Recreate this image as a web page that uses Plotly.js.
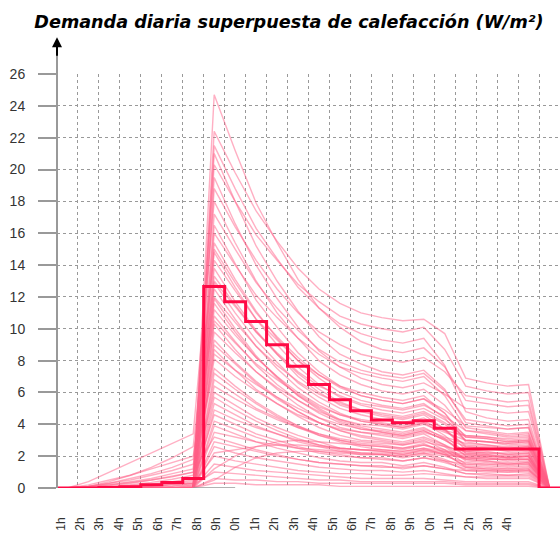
<!DOCTYPE html>
<html>
<head>
<meta charset="utf-8">
<script src="https://cdn.plot.ly/plotly-3.0.1.min.js"></script>
<style>html,body{margin:0;padding:0;background:#fff;}#chart{width:560px;height:533px;}</style>
</head>
<body>
<div id="chart"></div>
<script>
// hour index 1..24 (points drawn at the centre of each hour)
const hours = [1,2,3,4,5,6,7,8,9,10,11,12,13,14,15,16,17,18,19,20,21,22,23,24];
const hourLabels = ["1h","2h","3h","4h","5h","6h","7h","8h","9h","0h","1h","2h","3h","4h","5h","6h","7h","8h","9h","0h","1h","2h","3h","4h"];

// Mean daily heating demand (bold step line), W/m²
const mediaHoraria = [0,0,0.03,0.08,0.2,0.35,0.6,12.65,11.7,10.45,9.0,7.65,6.5,5.55,4.85,4.27,4.1,4.23,3.75,2.45,2.45,2.45,2.45,0];

// Superposed daily curves (W/m²)
const diasAltos = [
  [0,0,0,0,0,0,0,24.7,21.2,17.9,15.4,13.1,11.3,10.1,9.2,8.7,8.5,8.8,7.6,5.5,5.3,5.1,5.2,0],
  [0,0,0,0,0,0,0,22.4,19.8,17.4,15.5,13.8,12.5,11.6,11.0,10.7,10.5,10.6,9.7,6.9,6.6,6.4,6.5,0],
  [0,0,0.05,0.1,0.2,0.3,0.5,21.5,18.8,16.3,14.4,12.6,11.3,10.3,9.7,9.3,9.1,9.4,7.7,4.8,4.4,4.2,4.3,0],
  [0,0,0,0,0,0,0,21.0,18.0,15.2,13.0,11.1,9.5,8.4,7.8,7.3,7.1,7.4,6.2,4.1,3.9,3.7,3.8,0],
  [0,0.05,0.15,0.3,0.5,0.75,1.0,20.3,18.0,15.9,14.3,12.8,11.7,10.8,10.3,10.0,9.8,10.1,8.7,6.4,6.1,5.9,6.0,0],
  [0,0,0,0,0,0,0,19.5,16.6,14.0,11.9,10.1,8.6,7.6,6.9,6.5,6.3,6.6,5.9,5.0,4.9,4.7,4.8,0],
  [0,0,0,0,0,0,0,18.8,16.4,14.3,12.5,11.0,9.8,9.0,8.4,8.1,7.9,8.2,7.3,5.8,5.6,5.4,5.5,0],
  [0,0.4,1.0,1.6,2.2,2.8,3.4,18.0,15.4,13.0,11.0,9.4,8.0,7.1,6.5,6.1,5.9,6.2,5.2,3.6,3.4,3.2,3.3,0],
  [0,0,0,0,0,0,0,17.2,15.0,12.9,11.3,9.9,8.7,7.9,7.4,7.1,6.9,7.2,6.1,4.3,4.1,3.9,4.0,0],
  [0,0,0,0.05,0.1,0.2,0.3,16.5,14.1,11.8,10.1,8.5,7.3,6.4,5.8,5.5,5.3,5.6,4.7,3.2,3.1,2.9,3.0,0],
  [0,0,0,0,0,0,0,16.0,14.0,12.1,10.7,9.4,8.4,7.6,7.2,6.9,6.7,7.0,5.8,3.8,3.6,3.4,3.5,0],
  [0,0,0,0,0,0,0,15.4,13.1,11.1,9.4,8.0,6.9,6.0,5.5,5.2,5.0,5.3,4.4,3.0,2.9,2.7,2.8,0],
  [0,0,0,0,0,0,0,15.0,12.9,11.0,9.5,8.2,7.1,6.3,5.8,5.5,5.3,5.6,4.9,3.9,3.8,3.7,3.8,0],
  [0,0.1,0.4,0.8,1.3,1.9,2.6,14.8,12.6,10.6,9.0,7.6,6.5,5.7,5.2,4.9,4.7,5.0,4.3,3.3,3.2,3.0,3.1,0],
  [0,0,0,0,0,0,0,14.3,12.4,10.6,9.3,8.0,7.1,6.4,6.0,5.7,5.5,5.8,4.7,2.9,2.7,2.5,2.6,0]
];
const diasMedios = [
  [0,0,0,0,0,0,0,13.8,11.7,9.9,8.4,7.0,6.0,5.2,4.8,4.5,4.3,4.6,3.7,2.4,2.3,2.1,2.2,0],
  [0,0.1,0.3,0.6,0.9,1.3,1.8,13.3,11.5,9.8,8.5,7.3,6.4,5.8,5.3,5.1,4.9,5.2,4.5,3.6,3.5,3.3,3.4,0],
  [0,0,0,0,0,0,0.2,13.0,11.4,9.8,8.4,7.2,6.2,5.4,4.9,4.6,4.4,4.7,4.0,3.0,2.9,2.8,2.9,0],
  [0,0,0,0,0,0,0,12.9,11.0,9.3,7.9,6.6,5.7,5.0,4.6,4.3,4.1,4.4,3.7,2.6,2.5,2.3,2.4,0],
  [0,0,0,0,0,0,0,12.5,10.6,8.9,7.5,6.3,5.4,4.7,4.2,4.0,3.8,4.1,3.3,2.2,2.1,1.9,2.0,0],
  [0,0.05,0.2,0.4,0.6,0.9,1.2,12.0,10.4,8.9,7.7,6.7,5.9,5.3,4.9,4.7,4.5,4.8,4.1,3.2,3.1,2.9,3.0,0],
  [0,0,0,0,0,0,0,11.9,10.0,8.3,6.9,5.8,4.9,4.2,3.8,3.5,3.3,3.6,3.0,2.3,2.2,2.1,2.2,0],
  [0,0,0,0,0,0,0,11.6,9.8,8.2,7.0,5.8,5.0,4.3,3.9,3.7,3.5,3.8,3.1,2.0,1.9,1.7,1.8,0],
  [0,0,0,0,0,0,0,11.2,9.6,8.2,7.0,6.0,5.2,4.6,4.3,4.1,3.9,4.2,3.6,2.7,2.6,2.5,2.6,0],
  [0,0.2,0.5,0.8,1.2,1.6,2.0,10.8,9.2,7.7,6.5,5.5,4.7,4.1,3.7,3.5,3.3,3.6,3.0,2.2,2.1,2.0,2.1,0],
  [0,0,0,0,0,0,0.1,10.5,9.1,7.8,6.8,5.9,5.1,4.6,4.2,4.0,3.8,4.1,3.6,3.3,3.2,3.1,3.2,0],
  [0,0,0,0,0,0,0,10.3,8.7,7.3,6.2,5.2,4.4,3.8,3.5,3.3,3.1,3.4,2.7,1.8,1.7,1.5,1.6,0],
  [0,0,0,0,0,0,0,9.8,8.5,7.3,6.3,5.5,4.8,4.3,4.0,3.9,3.7,4.0,3.5,3.0,2.9,2.8,2.9,0],
  [0,0,0.1,0.2,0.35,0.55,0.8,9.3,7.9,6.7,5.7,4.8,4.1,3.6,3.3,3.1,2.9,3.2,2.7,2.1,2.0,1.9,2.0,0],
  [0,0,0,0,0,0,0,9.0,7.8,6.6,5.6,4.8,4.1,3.6,3.2,3.0,2.8,3.1,2.6,1.7,1.6,1.5,1.6,0],
  [0,0,0,0,0,0,0,8.7,7.4,6.2,5.3,4.5,3.8,3.3,3.0,2.9,2.7,3.0,2.4,1.5,1.4,1.3,1.4,0],
  [0,0,0,0,0,0.1,0.3,8.4,7.4,6.5,5.7,5.0,4.4,4.0,3.7,3.6,3.4,3.7,3.2,2.8,2.7,2.6,2.7,0],
  [0,0,0,0,0,0,0,8.1,7.0,6.1,5.3,4.6,4.1,3.7,3.5,3.4,3.2,3.5,3.1,2.6,2.5,2.4,2.5,0],
  [0,0.1,0.3,0.5,0.8,1.1,1.5,7.5,6.4,5.4,4.6,3.9,3.4,3.0,2.7,2.6,2.4,2.7,2.3,1.8,1.7,1.6,1.7,0]
];
const diasBajos = [
  [0,0,0,0,0,0,0,7.2,6.2,5.3,4.5,3.9,3.3,2.9,2.6,2.4,2.3,2.5,2.1,1.4,1.3,1.2,1.3,0],
  [0,0,0,0,0,0,0,6.8,5.9,5.0,4.4,3.8,3.3,3.0,2.8,2.7,2.5,2.8,2.2,1.3,1.2,1.1,1.2,0],
  [0,0,0,0,0,0,0,6.4,5.6,4.9,4.3,3.8,3.4,3.1,2.9,2.8,2.7,2.9,2.6,2.3,2.2,2.2,2.3,0],
  [0,0,0.05,0.15,0.25,0.4,0.6,6.0,5.2,4.4,3.8,3.3,2.9,2.5,2.4,2.3,2.1,2.4,2.1,1.9,1.9,1.8,1.9,0],
  [0,0,0,0,0,0,0.1,5.7,4.9,4.2,3.6,3.1,2.7,2.4,2.2,2.1,2.0,2.2,1.8,1.3,1.2,1.2,1.2,0],
  [0,0,0,0,0,0,0,5.3,4.6,3.9,3.4,2.9,2.6,2.3,2.1,2.1,1.9,2.1,1.7,1.1,1.0,1.0,1.0,0],
  [0,0,0,0,0,0,0,4.9,4.3,3.8,3.4,3.0,2.7,2.5,2.4,2.3,2.2,2.4,2.2,2.0,2.0,1.9,2.0,0],
  [0,0,0,0.1,0.15,0.25,0.4,4.6,4.0,3.4,3.0,2.6,2.3,2.1,1.9,1.9,1.7,1.9,1.7,1.5,1.5,1.4,1.5,0],
  [0,0,0,0,0,0,0,4.2,3.7,3.2,2.8,2.5,2.2,2.0,1.9,1.8,1.7,1.9,1.6,1.2,1.1,1.1,1.1,0],
  [0,0,0,0,0,0,0,3.9,3.4,2.9,2.5,2.2,1.9,1.7,1.6,1.6,1.4,1.6,1.3,0.9,0.8,0.8,0.8,0],
  [0,0,0,0,0,0,0,3.5,3.2,2.9,2.7,2.5,2.4,2.3,2.2,2.2,2.1,2.3,2.1,1.9,1.8,1.8,1.8,0],
  [0,0.1,0.2,0.35,0.5,0.7,1.0,3.2,2.8,2.4,2.1,1.8,1.6,1.5,1.4,1.4,1.2,1.4,1.2,1.1,1.1,1.0,1.1,0],
  [0,0,0,0,0,0,0,2.9,2.6,2.3,2.0,1.8,1.6,1.5,1.4,1.3,1.3,1.4,1.2,0.9,0.9,0.8,0.9,0],
  [0,0,0,0,0,0,0,2.6,2.2,1.9,1.7,1.5,1.3,1.2,1.1,1.1,1.0,1.1,0.9,0.7,0.6,0.6,0.6,0],
  [0,0,0,0,0,0,0,2.2,2.4,2.6,2.7,2.7,2.6,2.5,2.4,2.4,2.3,2.5,2.3,2.1,2.0,2.0,2.0,0],
  [0,0,0,0.05,0.1,0.2,0.3,2.0,1.7,1.5,1.3,1.1,1.0,0.9,0.9,0.8,0.8,0.9,0.8,0.7,0.7,0.7,0.7,0],
  [0,0,0,0,0,0,0,1.5,1.3,1.1,1.0,0.9,0.8,0.7,0.6,0.6,0.6,0.6,0.5,0.4,0.4,0.4,0.4,0],
  [0,0,0,0,0.05,0.1,0.2,1.0,0.9,0.8,0.7,0.6,0.5,0.5,0.4,0.4,0.4,0.4,0.4,0.3,0.3,0.3,0.3,0],
  [0,0,0,0,0,0,0,0.6,0.5,0.5,0.4,0.4,0.3,0.3,0.3,0.3,0.3,0.3,0.3,0.2,0.2,0.2,0.2,0],
  [0,0,0,0,0,0,0,0.3,0.3,0.2,0.2,0.2,0.2,0.1,0.1,0.1,0.1,0.1,0.1,0.1,0.1,0.1,0.1,0],
  [0,0,0,0,0,0,0,0.5,1.3,1.9,2.2,2.3,2.3,2.2,2.1,2.1,2.0,2.2,2.0,1.6,1.5,1.5,1.5,0],
  [0,0,0,0,0,0,0,1.2,2.0,2.6,2.9,3.0,2.9,2.8,2.7,2.6,2.5,2.7,2.4,1.9,1.8,1.8,1.8,0]
];
// short grey base segment near 7h–9h
const baseGrisHoras = [7,8,9];
const baseGrisValores = [0,0,0];

const traces = [];
[...diasAltos, ...diasMedios, ...diasBajos].forEach(d => {
  traces.push({x: hours, y: d, type: 'scatter', mode: 'lines',
    line: {color: 'rgba(255,95,135,0.5)', width: 1.4}, hoverinfo: 'skip', showlegend: false});
});
traces.push({x: baseGrisHoras, y: baseGrisValores, type: 'scatter', mode: 'lines',
  line: {color: '#999', width: 1.5}, hoverinfo: 'skip', showlegend: false});
// step line across hour boundaries
const stepX = hours.map(h => h - 0.5).concat([hours[hours.length - 1] + 0.5]);
const stepY = mediaHoraria.concat([mediaHoraria[mediaHoraria.length - 1]]);
traces.push({x: stepX, y: stepY, type: 'scatter', mode: 'lines',
  line: {color: '#ff0a45', width: 3, shape: 'hv'}, hoverinfo: 'skip', showlegend: false});
// label axis carrier
traces.push({x: [hours[0]], y: [null], xaxis: 'x2', yaxis: 'y', type: 'scatter', mode: 'markers',
  hoverinfo: 'skip', showlegend: false});

const layout = {
  width: 560, height: 533,
  margin: {l: 57, r: 0, t: 74, b: 45},
  paper_bgcolor: '#fff', plot_bgcolor: '#fff',
  title: {text: 'Demanda diaria superpuesta de calefacción (W/m²)',
    font: {family: 'DejaVu Sans', size: 17.6, color: '#000', style: 'italic', weight: 'bold'},
    x: 0.516, xref: 'container', xanchor: 'center', y: 0.959, yref: 'container', yanchor: 'middle'},
  xaxis: {range: [0.5, 24.5], tick0: 0.5, dtick: 1, showticklabels: false, ticks: '',
    showgrid: true, gridcolor: '#999', griddash: 'dot', gridwidth: 1, zeroline: false, showline: false,
    fixedrange: true},
  xaxis2: {overlaying: 'x', anchor: 'y', side: 'bottom', range: [0.81, 26.697],
    tickmode: 'array', tickvals: hours, ticktext: hourLabels, tickangle: -90,
    tickfont: {family: 'Liberation Sans, Arial', size: 12, color: '#333'},
    ticks: '', ticklabelstandoff: 26, showgrid: false, zeroline: false, showline: false},
  yaxis: {range: [0, 26], tick0: 0, dtick: 2, showgrid: true, gridcolor: '#999', griddash: 'dot', gridwidth: 1,
    zeroline: false, showline: false, ticks: 'outside', ticklen: 18, tickwidth: 2, tickcolor: '#999',
    ticklabelstandoff: 10,
    tickfont: {family: 'Liberation Sans, Arial', size: 14, color: '#333'}},
  shapes: [
    {type: 'line', xref: 'paper', yref: 'paper', x0: 0, x1: 0, y0: 0, y1: 1.046,
      line: {color: '#999', width: 2}}
  ],
  annotations: [
    {xref: 'paper', yref: 'paper', x: 0, y: 1.089, text: '', showarrow: true,
      ax: 0, ay: 20, arrowcolor: '#000', arrowwidth: 2, arrowhead: 2, arrowsize: 1}
  ]
};

Plotly.newPlot('chart', traces, layout, {staticPlot: true, displayModeBar: false});
</script>
</body>
</html>
